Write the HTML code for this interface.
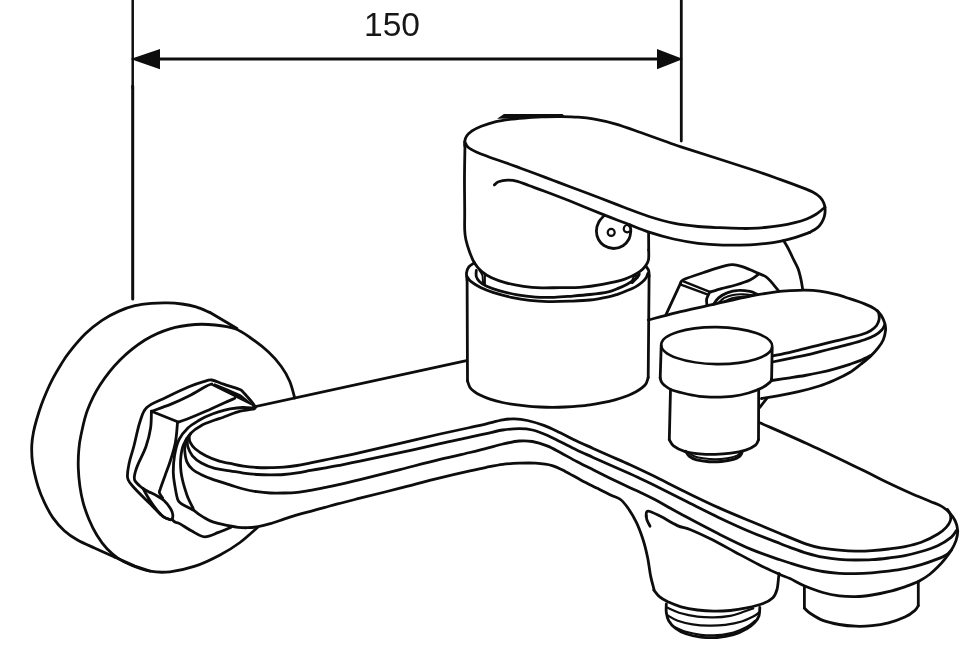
<!DOCTYPE html>
<html><head><meta charset="utf-8"><title>150</title>
<style>
html,body{margin:0;padding:0;background:#fff;}
body{width:980px;height:670px;overflow:hidden;position:relative;font-family:"Liberation Sans",sans-serif;}
svg{position:absolute;left:0;top:0;display:block;}
.dim{position:absolute;left:352px;top:5px;width:80px;text-align:center;font-size:33.6px;line-height:39px;will-change:transform;color:#161616;letter-spacing:0;white-space:nowrap;}
</style></head><body>
<svg width="980" height="670" viewBox="0 0 980 670">
<g fill="none" stroke="#0d0d0d" stroke-width="2.8" stroke-linecap="round" stroke-linejoin="round">
<path d="M132.7 0.0L132.7 88.0" stroke-width="2.5"/>
<path d="M132.7 86.0L132.7 299.0" stroke-width="3.0"/>
<path d="M681.3 0.0L681.3 141.0" stroke-width="2.8"/>
<path d="M158.0 59.0L659.0 59.0" stroke-width="2.8"/>
<path d="M114.5 557.0C111.2 555.5 101.2 551.0 95.0 548.2C88.8 545.4 82.6 542.9 77.5 540.0C72.4 537.1 68.4 534.4 64.3 530.7C60.2 527.0 56.1 522.2 52.8 517.6C49.5 513.0 47.1 508.0 44.6 502.8C42.1 497.6 40.0 493.1 38.0 486.4C36.0 479.7 33.5 469.4 32.5 462.5C31.5 455.6 31.6 450.1 31.8 445.0C32.0 439.9 32.7 436.2 33.5 432.0C34.3 427.8 35.2 424.5 36.5 420.0C37.8 415.5 39.6 409.7 41.3 405.0C43.0 400.3 44.6 396.4 46.5 392.0C48.4 387.6 50.4 383.3 52.8 378.7C55.2 374.1 58.3 368.9 61.0 364.5C63.7 360.1 65.1 357.5 69.2 352.4C73.3 347.2 80.1 338.9 85.6 333.6C91.1 328.3 96.5 324.1 102.0 320.4C107.5 316.7 113.0 313.8 118.5 311.4C124.0 308.9 129.4 307.0 134.9 305.7C140.4 304.4 145.8 303.9 151.3 303.4C156.8 302.9 162.6 302.8 167.7 302.9C172.8 303.0 177.3 303.4 182.0 304.0C186.7 304.6 191.3 305.4 196.0 306.8C200.7 308.2 207.7 311.6 210.0 312.5"/>
<path d="M210.0 312.5L237.0 328.5"/>
<path d="M294.7 398.0C293.9 395.2 292.0 386.8 289.8 381.5C287.6 376.2 284.9 371.4 281.3 366.5C277.8 361.6 273.7 356.8 268.5 352.0C263.3 347.2 255.6 341.4 250.0 337.5C244.4 333.6 240.8 330.8 235.0 328.8C229.2 326.7 221.7 325.7 215.0 325.0C208.3 324.3 202.5 323.9 195.0 324.5C187.5 325.1 178.3 326.2 170.0 328.8C161.7 331.3 153.3 334.8 145.0 340.0C136.7 345.2 127.5 352.5 120.0 360.0C112.5 367.5 105.4 376.7 100.0 385.0C94.6 393.3 90.7 401.7 87.5 410.0C84.3 418.3 82.5 428.3 81.0 435.0C79.5 441.7 79.2 444.5 78.8 450.0C78.3 455.5 78.1 461.9 78.3 468.0C78.5 474.1 79.1 480.6 79.9 486.4C80.7 492.2 81.7 497.3 83.2 502.8C84.7 508.3 86.6 513.7 88.9 519.2C91.2 524.7 94.1 530.7 97.1 535.6C100.1 540.5 103.4 545.0 107.0 548.8C110.6 552.6 114.3 555.8 118.5 558.6C122.7 561.4 126.8 563.4 132.0 565.5C137.2 567.6 143.7 570.2 150.0 571.2C156.3 572.3 162.5 572.6 170.0 571.8C177.5 570.9 186.7 569.0 195.0 566.2C203.3 563.5 212.5 559.0 220.0 555.0C227.5 551.0 233.8 547.1 240.0 542.5C246.2 537.9 254.6 530.0 257.5 527.5"/>
<path d="M114.5 557.0L134.9 566.0L150.0 571.0"/>
<path d="M255.7 407.3C254.9 406.2 252.6 402.9 251.0 401.0C249.4 399.1 247.7 397.2 246.4 395.7C245.1 394.2 244.2 393.1 243.0 392.0C241.8 390.9 242.5 390.6 239.3 389.3C236.1 388.0 228.2 385.7 223.6 384.1C219.0 382.6 215.1 380.4 211.8 380.0C208.5 379.6 207.4 380.5 203.6 381.6C199.8 382.7 195.2 384.2 188.9 386.8C182.6 389.4 172.9 394.1 165.9 397.5C158.9 400.9 151.1 403.4 146.8 407.5C142.5 411.6 142.1 415.5 139.9 422.0C137.7 428.5 135.6 439.7 133.8 446.5C132.0 453.3 130.2 457.7 129.2 463.0C128.2 468.3 126.7 474.0 127.7 478.3C128.7 482.6 131.5 484.7 135.3 489.0C139.1 493.3 146.0 499.7 150.6 504.3C155.2 508.9 159.6 514.0 162.9 516.5C166.2 519.0 169.2 519.1 170.5 519.6"/>
<path d="M151.4 411.3C154.6 410.1 164.2 406.9 170.5 404.4C176.8 401.8 183.0 399.0 188.9 396.0C194.8 393.0 201.9 388.5 205.7 386.5C209.5 384.5 210.8 384.4 211.8 384.0"/>
<path d="M151.4 411.3L178.2 422.0"/>
<path d="M178.2 422.0C179.7 421.5 182.7 420.8 187.3 419.0C191.9 417.2 199.6 414.0 205.7 411.3C211.8 408.6 219.2 405.2 224.0 403.0C228.8 400.8 233.0 399.1 234.8 398.3"/>
<path d="M151.4 411.3C151.3 414.1 151.5 422.1 150.6 428.0C149.7 433.9 148.0 440.6 146.0 446.5C144.0 452.4 140.2 459.1 138.4 463.4C136.6 467.6 136.0 469.3 135.3 472.0C134.7 474.7 133.6 477.3 134.5 479.8C135.4 482.3 138.4 484.9 141.0 487.0C143.6 489.1 148.5 491.5 150.0 492.4"/>
<path d="M150.0 492.4C151.3 493.0 155.3 494.8 157.6 496.2C159.9 497.6 161.9 498.6 164.0 500.6C166.1 502.6 168.8 505.9 170.3 508.2C171.8 510.5 172.5 512.7 172.8 514.6C173.1 516.5 172.3 518.9 172.2 519.7"/>
<path d="M143.0 488.5C144.2 490.5 147.6 496.9 150.0 500.6C152.4 504.3 155.3 508.1 157.6 510.8C159.9 513.5 161.9 515.6 164.0 517.1C166.1 518.6 169.2 519.3 170.3 519.7"/>
<path d="M147.0 500.0L160.2 514.6" stroke-width="2.0"/>
<path d="M177.5 422.5C177.2 425.8 176.6 436.0 175.4 442.4C174.2 448.8 172.0 455.5 170.3 461.0C168.6 466.5 166.9 470.5 165.2 475.2C163.5 479.9 161.1 486.2 160.2 489.2C159.2 492.2 159.1 491.5 159.5 493.0C159.9 494.5 162.2 497.2 162.7 498.0"/>
<path d="M172.2 519.7C172.7 520.1 174.0 521.5 175.4 522.2C176.8 522.9 177.8 522.6 180.5 524.1C183.2 525.6 187.9 529.0 191.9 531.1C195.9 533.2 200.2 536.6 204.6 536.8C209.0 537.0 214.1 534.0 218.5 532.4C222.9 530.8 229.1 528.1 231.2 527.3"/>
<path d="M254.4 408.2C252.4 408.1 246.8 407.4 242.7 407.5C238.6 407.6 234.1 408.2 230.1 408.9C226.1 409.6 222.4 410.6 218.5 411.8C214.6 413.0 210.1 414.8 206.9 416.2C203.8 417.6 202.8 418.0 199.6 420.0C196.4 422.0 191.3 424.7 187.9 428.0C184.5 431.3 181.2 435.1 179.0 439.7C176.8 444.3 175.4 450.3 174.5 455.8C173.6 461.3 173.2 467.8 173.3 472.7C173.4 477.6 174.1 481.2 174.8 485.4C175.5 489.6 176.4 495.1 177.3 498.1C178.2 501.1 177.8 501.2 180.5 503.2C183.2 505.2 191.1 509.0 193.2 510.1"/>
<path d="M253.5 407.0L466.5 360.6"/>
<path d="M254.4 408.9C251.7 409.4 243.1 410.4 237.9 411.8C232.7 413.2 227.2 415.8 223.3 417.2C219.5 418.6 218.5 418.6 214.8 420.0C211.2 421.4 205.4 423.2 201.4 425.4C197.4 427.6 193.6 430.1 190.6 433.4C187.6 436.7 185.0 441.1 183.4 445.1C181.8 449.1 181.2 453.6 180.8 457.6C180.3 461.6 180.5 465.6 180.8 469.3C181.0 473.0 181.8 476.7 182.5 480.0C183.2 483.3 184.1 486.0 185.0 489.0C185.9 492.0 186.8 495.1 188.1 498.1C189.3 501.1 191.4 504.9 192.5 507.0C193.6 509.1 192.6 509.1 194.4 510.8C196.2 512.5 200.1 515.2 203.3 517.1C206.5 519.0 209.1 520.7 213.5 522.2C217.9 523.7 225.9 525.0 230.0 525.9C234.1 526.8 235.2 527.0 238.1 527.3C241.0 527.6 244.2 527.8 247.5 527.7C250.8 527.6 254.4 527.3 258.2 526.6C262.0 525.9 266.0 524.9 270.3 523.7C274.6 522.5 279.3 520.7 283.8 519.2C288.3 517.7 292.7 516.1 297.2 514.8C301.7 513.5 306.1 512.5 310.6 511.3C315.1 510.1 319.6 508.8 324.1 507.6C328.6 506.4 331.5 505.5 337.5 503.9C343.5 502.3 349.6 500.8 360.0 498.2C370.4 495.6 386.7 491.6 400.0 488.2C413.3 484.8 428.3 480.6 440.0 477.8C451.7 474.9 462.3 472.5 470.0 470.8C477.7 469.1 480.9 468.4 486.4 467.3C491.9 466.2 497.3 465.0 502.8 464.3C508.3 463.6 513.7 463.4 519.2 463.2C524.7 463.0 530.1 462.8 535.6 463.2C541.1 463.6 547.2 464.2 552.1 465.6C557.0 467.0 560.3 468.9 565.2 471.4C570.1 473.9 576.1 477.5 581.6 480.4C587.1 483.3 593.1 486.1 598.0 488.6C602.9 491.1 607.4 493.4 611.1 495.2C614.9 497.0 617.6 497.3 620.5 499.5C623.4 501.7 625.6 504.7 628.3 508.5C630.9 512.3 633.9 517.2 636.4 522.4C638.9 527.6 641.1 533.7 643.0 539.5C644.9 545.3 646.2 550.9 647.5 557.0C648.8 563.1 649.6 571.0 650.7 576.4C651.8 581.8 653.5 587.3 654.0 589.5"/>
<path d="M190.8 433.6C190.6 434.1 189.4 435.0 189.3 436.5C189.2 438.0 189.2 440.4 190.2 442.4C191.2 444.4 192.5 446.5 195.1 448.7C197.7 450.9 201.8 453.7 205.8 455.8C209.8 457.9 215.3 459.9 219.3 461.2C223.3 462.5 226.0 462.6 230.0 463.4C234.0 464.2 238.9 465.4 243.4 466.1C247.9 466.8 252.4 467.2 256.9 467.5C261.4 467.8 265.8 467.8 270.3 467.7C274.8 467.6 279.3 467.6 283.8 467.2C288.3 466.8 292.7 466.2 297.2 465.5C301.7 464.8 306.1 463.7 310.6 462.8C315.1 461.9 319.6 461.0 324.1 460.1C328.6 459.2 331.5 458.6 337.5 457.4C343.5 456.1 349.6 455.0 360.0 452.6C370.4 450.2 386.7 446.4 400.0 443.3C413.3 440.2 428.3 436.6 440.0 434.0C451.7 431.4 462.3 429.2 470.0 427.5C477.7 425.8 480.9 425.1 486.4 423.8C491.9 422.5 498.2 420.7 502.8 419.9C507.4 419.1 510.2 418.8 514.3 418.9C518.4 419.0 522.5 419.4 527.4 420.5C532.3 421.6 538.3 423.3 543.8 425.4C549.3 427.4 554.8 430.2 560.3 432.8C565.8 435.4 571.2 438.4 576.7 441.0C582.2 443.6 587.6 445.9 593.1 448.4C598.6 450.9 603.4 453.1 609.5 455.8C615.6 458.5 622.8 461.5 630.0 464.8C637.2 468.1 643.5 471.1 652.8 475.6C662.1 480.1 674.6 486.7 685.6 492.0C696.6 497.3 707.5 502.7 718.5 507.6C729.5 512.5 741.0 517.2 751.3 521.5C761.5 525.8 770.8 529.7 780.0 533.5C789.2 537.3 799.3 541.6 806.4 544.1C813.5 546.6 817.3 547.2 822.8 548.2C828.3 549.2 833.7 549.7 839.2 550.2C844.7 550.7 850.1 551.1 855.6 551.2C861.1 551.3 866.5 551.1 872.0 550.7C877.5 550.3 883.0 549.7 888.5 549.0C894.0 548.3 899.4 547.7 904.9 546.6C910.4 545.5 915.8 544.4 921.3 542.3C926.8 540.2 933.9 536.5 938.0 534.0C942.1 531.5 944.2 529.6 946.2 527.4C948.2 525.2 949.6 523.1 950.3 520.9C951.0 518.7 950.8 516.2 950.3 514.3C949.8 512.4 948.0 510.3 947.5 509.5"/>
<path d="M188.8 436.2C188.6 436.8 187.7 438.2 187.5 440.0C187.3 441.8 187.1 444.3 187.9 446.9C188.7 449.5 190.2 453.1 192.4 455.8C194.7 458.5 197.7 460.9 201.4 463.0C205.1 465.1 210.0 467.1 214.8 468.4C219.6 469.7 225.2 470.0 230.0 470.8C234.8 471.6 238.9 472.5 243.4 473.1C247.9 473.7 252.4 474.2 256.9 474.5C261.4 474.8 265.8 474.9 270.3 474.9C274.8 474.9 279.3 474.9 283.8 474.5C288.3 474.1 292.7 473.5 297.2 472.8C301.7 472.1 306.1 471.2 310.6 470.4C315.1 469.6 319.6 468.9 324.1 468.1C328.6 467.3 331.5 466.9 337.5 465.7C343.5 464.5 349.6 463.4 360.0 461.2C370.4 459.0 386.7 455.6 400.0 452.7C413.3 449.8 428.3 446.2 440.0 443.6C451.7 441.0 462.3 438.9 470.0 437.2C477.7 435.5 480.9 434.8 486.4 433.6C491.9 432.4 497.3 430.8 502.8 430.0C508.3 429.2 514.3 428.7 519.2 428.7C524.1 428.7 527.8 428.9 532.4 430.0C537.0 431.1 542.5 433.3 547.1 435.3C551.8 437.3 555.4 439.4 560.3 441.8C565.2 444.2 571.2 447.4 576.7 450.0C582.2 452.6 587.6 454.9 593.1 457.4C598.6 459.9 603.4 462.1 609.5 464.8C615.6 467.5 624.9 471.5 630.0 473.8C635.1 476.1 636.2 476.7 640.0 478.5C643.8 480.3 645.2 480.9 652.8 484.6C660.4 488.4 674.6 495.5 685.6 501.0C696.6 506.5 707.5 512.2 718.5 517.4C729.5 522.6 741.0 527.9 751.3 532.2C761.5 536.6 773.5 541.0 780.0 543.5C786.5 546.0 785.6 545.8 790.0 547.4C794.4 549.0 800.9 551.5 806.4 553.1C811.9 554.7 817.3 556.2 822.8 557.2C828.3 558.2 833.7 558.9 839.2 559.4C844.7 559.9 850.1 560.0 855.6 560.0C861.1 560.0 866.5 560.0 872.0 559.7C877.5 559.4 883.0 558.7 888.5 558.0C894.0 557.3 899.4 556.7 904.9 555.6C910.4 554.5 915.8 553.1 921.3 551.5C926.8 549.9 932.7 548.1 937.7 545.7C942.7 543.3 948.0 539.8 951.1 537.3C954.2 534.8 955.6 531.6 956.5 530.5"/>
<path d="M186.8 438.5C186.5 439.2 185.5 440.9 185.2 443.0C184.9 445.1 184.5 448.2 184.8 451.4C185.1 454.6 185.7 459.1 187.0 462.1C188.3 465.1 190.0 467.2 192.4 469.3C194.8 471.4 198.1 473.1 201.4 474.7C204.7 476.3 207.3 477.4 212.1 479.1C216.9 480.8 224.8 483.2 230.0 484.9C235.2 486.5 238.9 487.9 243.4 489.0C247.9 490.1 252.4 491.0 256.9 491.7C261.4 492.4 265.8 492.8 270.3 493.0C274.8 493.2 279.3 493.1 283.8 493.0C288.3 492.9 292.7 492.8 297.2 492.3C301.7 491.9 306.1 491.1 310.6 490.3C315.1 489.5 319.6 488.5 324.1 487.6C328.6 486.7 331.5 486.2 337.5 484.9C343.5 483.6 349.6 482.2 360.0 479.7C370.4 477.1 386.7 473.0 400.0 469.6C413.3 466.2 428.3 462.2 440.0 459.4C451.7 456.5 462.3 454.3 470.0 452.5C477.7 450.7 480.9 449.8 486.4 448.4C491.9 447.0 497.3 445.2 502.8 444.0C508.3 442.8 514.3 441.4 519.2 441.0C524.1 440.6 527.8 440.7 532.4 441.5C537.0 442.3 542.5 444.1 547.1 445.9C551.8 447.7 555.4 449.9 560.3 452.5C565.2 455.1 571.2 458.6 576.7 461.5C582.2 464.4 587.6 467.0 593.1 469.7C598.6 472.4 603.4 474.9 609.5 477.9C615.6 480.9 624.9 485.4 630.0 487.8C635.1 490.2 636.2 490.4 640.0 492.2C643.8 494.0 645.2 494.5 652.8 498.6C660.4 502.7 674.6 510.7 685.6 516.6C696.6 522.5 707.5 528.3 718.5 533.8C729.5 539.3 741.0 545.1 751.3 549.4C761.5 553.7 773.5 557.5 780.0 559.8C786.5 562.1 785.6 561.6 790.0 563.0C794.4 564.4 800.9 566.5 806.4 567.9C811.9 569.3 817.3 570.6 822.8 571.5C828.3 572.4 833.7 572.9 839.2 573.3C844.7 573.6 850.1 573.7 855.6 573.6C861.1 573.5 866.5 573.2 872.0 572.8C877.5 572.4 883.0 571.9 888.5 571.2C894.0 570.5 899.4 569.8 904.9 568.7C910.4 567.6 915.8 566.2 921.3 564.6C926.8 563.0 933.6 560.5 937.7 558.9C941.9 557.3 943.9 556.5 946.2 555.0C948.5 553.5 950.6 550.8 951.5 550.0"/>
<path d="M464.8 146.0C464.8 145.2 464.5 142.7 464.8 141.1C465.1 139.5 465.4 137.8 466.5 136.2C467.6 134.6 468.9 133.0 471.4 131.3C473.9 129.7 477.2 127.9 481.3 126.3C485.4 124.7 490.8 122.8 496.0 121.6C501.2 120.4 506.9 119.7 512.4 119.0C517.9 118.3 523.3 117.9 528.8 117.5C534.3 117.1 539.8 117.0 545.3 116.8C550.8 116.6 556.2 116.5 561.7 116.6C567.2 116.7 572.6 116.8 578.1 117.2C583.6 117.6 588.4 118.1 594.5 119.2C600.6 120.3 607.4 121.7 615.0 123.9C622.6 126.1 631.7 129.4 640.0 132.3C648.3 135.2 658.2 138.8 665.0 141.2C671.8 143.6 666.8 142.2 681.0 146.8C695.2 151.4 733.5 163.6 750.0 169.0C766.5 174.4 771.2 176.3 779.9 179.4C788.6 182.5 796.7 185.5 802.2 187.6C807.7 189.7 809.7 190.5 812.7 192.1C815.7 193.7 818.2 195.4 820.1 197.3C822.0 199.2 823.1 201.3 823.9 203.3C824.7 205.3 825.0 207.1 825.1 209.3C825.2 211.5 824.9 214.5 824.3 216.7C823.7 218.9 822.8 220.8 821.6 222.7C820.4 224.6 819.2 226.3 817.2 227.9C815.2 229.5 811.0 231.7 809.7 232.4"/>
<path d="M464.8 141.9C465.4 142.8 466.2 145.6 468.1 147.3C470.0 149.0 473.0 150.5 476.3 152.0C479.6 153.5 483.2 154.8 487.8 156.5C492.4 158.2 498.7 160.4 504.2 162.3C509.7 164.2 515.1 166.2 520.6 168.2C526.1 170.2 531.5 172.2 537.0 174.3C542.5 176.4 548.0 178.4 553.5 180.5C559.0 182.6 562.2 183.8 570.0 186.7C577.8 189.6 590.9 194.5 600.0 198.0C609.1 201.5 616.3 204.4 624.5 207.5C632.7 210.6 640.8 213.9 649.0 216.5C657.2 219.1 665.3 221.5 673.5 223.2C681.7 224.9 690.2 225.8 698.0 226.5C705.8 227.2 713.0 227.4 720.0 227.7C727.0 228.0 735.0 228.3 740.0 228.4C745.0 228.5 745.9 228.6 750.0 228.4C754.1 228.2 759.9 227.9 764.9 227.5C769.9 227.1 774.9 226.5 779.9 225.7C784.9 224.9 790.3 223.8 794.8 222.7C799.3 221.6 803.2 220.4 806.7 219.0C810.2 217.6 813.2 216.0 815.7 214.5C818.2 213.0 820.1 211.2 821.6 210.0C823.1 208.8 824.4 207.8 825.0 207.3"/>
<path d="M494.4 184.9C495.1 184.4 496.3 182.6 498.5 181.8C500.7 181.0 504.4 180.3 507.5 180.2C510.6 180.1 513.9 180.4 517.4 181.3C520.9 182.2 524.1 183.8 528.8 185.5C533.4 187.2 538.4 188.9 545.3 191.5C552.2 194.1 560.2 197.1 570.0 201.0C579.8 204.9 594.7 211.2 604.0 214.9C613.3 218.6 618.5 220.4 626.0 223.3C633.5 226.2 641.1 229.6 649.0 232.2C656.9 234.8 665.3 237.2 673.5 239.0C681.7 240.8 689.8 242.3 698.0 243.3C706.2 244.3 714.0 244.8 722.7 245.1C731.4 245.3 743.0 245.1 750.0 244.8C757.0 244.6 759.9 244.2 764.9 243.6C769.9 243.0 774.9 242.3 779.9 241.3C784.9 240.3 789.8 239.1 794.8 237.6C799.8 236.1 807.2 233.3 809.7 232.4"/>
<path d="M465.0 144.0C464.9 149.2 464.6 163.6 464.5 175.0C464.4 186.4 464.7 203.3 464.7 212.5C464.7 221.7 464.5 225.4 464.7 230.0C464.9 234.6 465.1 236.1 465.9 239.8C466.7 243.5 468.2 248.1 469.6 252.0C471.0 255.9 472.5 259.7 474.5 263.0C476.5 266.3 478.9 269.1 481.8 271.6C484.7 274.1 487.7 275.9 491.6 277.8C495.5 279.6 499.8 281.2 505.1 282.6C510.4 284.1 517.4 285.4 523.5 286.3C529.6 287.2 535.7 287.6 541.8 287.8C547.9 288.0 553.8 287.6 560.2 287.6C566.6 287.5 573.0 287.8 580.0 287.3C587.0 286.8 594.9 285.7 602.4 284.3C609.9 282.9 618.6 281.2 624.8 279.1C631.0 277.0 636.2 273.8 639.7 271.6C643.2 269.4 644.2 267.7 645.7 265.7C647.2 263.7 648.0 262.3 648.5 259.7C649.0 257.1 648.7 251.6 648.7 250.0"/>
<path d="M648.7 250.0L648.6 232.5"/>
<path d="M604.5 215.2C603.5 216.3 600.1 219.4 598.8 222.0C597.4 224.6 596.4 228.1 596.4 231.0C596.4 233.9 597.2 237.1 598.5 239.5C599.8 241.9 601.5 244.0 604.0 245.5C606.5 247.0 610.4 248.5 613.6 248.5C616.8 248.5 620.4 247.3 623.0 245.7C625.6 244.1 627.7 241.4 629.0 239.0C630.3 236.6 630.6 233.3 630.8 231.0C630.9 228.7 630.0 226.0 629.9 225.0"/>
<path d="M630.0 226.8C629.5 226.5 628.0 225.0 627.0 225.0C626.0 225.0 624.7 226.0 624.2 227.0C623.7 228.0 623.7 229.9 624.2 230.8C624.7 231.7 626.3 232.2 627.2 232.3C628.1 232.4 629.1 231.6 629.5 231.5" stroke-width="2.2"/>
<path d="M474.5 262.8C473.6 263.4 470.3 265.0 469.0 266.7C467.7 268.4 466.8 270.6 466.5 272.9C466.2 275.1 467.0 279.0 467.1 280.2"/>
<path d="M467.1 280.0L467.5 381.0"/>
<path d="M467.1 276.5C467.7 277.3 468.6 279.6 470.8 281.4C473.1 283.2 476.9 285.7 480.6 287.6C484.3 289.4 487.8 290.8 492.9 292.4C498.0 294.0 505.1 296.0 511.2 297.3C517.3 298.6 523.5 299.7 529.6 300.4C535.7 301.1 541.3 301.5 548.0 301.6C554.7 301.7 563.0 301.5 570.0 301.2C577.0 300.9 583.6 300.7 590.0 300.0C596.4 299.3 603.8 297.8 608.4 296.8C613.0 295.9 614.5 295.3 617.5 294.3C620.5 293.3 623.6 292.1 626.7 290.8C629.8 289.5 633.3 288.1 635.9 286.6C638.5 285.1 640.6 283.5 642.3 282.0C644.0 280.5 645.4 278.9 646.3 277.5C647.2 276.1 647.5 274.2 647.8 273.5"/>
<path d="M476.3 270.4C476.3 271.4 475.8 274.7 476.3 276.5C476.8 278.3 477.7 279.8 479.4 281.4C481.1 283.0 483.4 284.8 486.7 286.3C490.0 287.8 493.9 289.2 499.0 290.6C504.1 292.0 511.2 293.8 517.3 294.9C523.4 296.0 529.6 296.7 535.7 297.1C541.8 297.5 548.4 297.4 554.1 297.3C559.8 297.2 564.0 296.8 570.0 296.3C576.0 295.8 583.6 295.2 590.0 294.5C596.4 293.8 603.8 292.8 608.4 291.8C613.0 290.8 614.5 289.8 617.5 288.6C620.5 287.4 624.1 285.8 626.7 284.4C629.3 283.0 631.4 281.6 633.2 280.3C635.1 279.0 636.8 277.7 637.8 276.6C638.8 275.6 639.0 274.4 639.3 274.0"/>
<path d="M479.4 270.4C479.9 271.2 481.8 273.5 482.4 275.3C483.0 277.1 482.6 279.8 483.0 281.4C483.4 283.0 484.6 284.5 484.9 285.1" stroke-width="2.0"/>
<path d="M484.9 274.0L484.9 284.5" stroke-width="2.0"/>
<path d="M631.5 282.8C631.9 281.8 632.7 278.1 633.7 276.9C634.7 275.7 636.9 275.6 637.5 275.4" stroke-width="2.0"/>
<path d="M632.3 283.0L637.8 277.5" stroke-width="2.0"/>
<path d="M646.2 266.5C646.6 267.2 648.1 268.9 648.6 270.5C649.1 272.1 649.1 275.1 649.2 276.0"/>
<path d="M649.1 276.0L648.2 377.5"/>
<path d="M467.5 381.0C467.9 382.1 468.9 385.8 470.0 387.5C471.1 389.2 472.3 390.1 474.0 391.3C475.7 392.6 477.3 393.7 480.0 395.0C482.7 396.3 486.2 397.9 490.0 399.1C493.8 400.4 498.3 401.6 502.5 402.5C506.7 403.4 510.8 404.1 515.0 404.7C519.2 405.3 523.3 405.8 527.5 406.2C531.7 406.6 535.8 406.8 540.0 407.0C544.2 407.2 548.3 407.3 552.5 407.3C556.7 407.3 560.8 407.2 565.0 407.0C569.2 406.8 573.3 406.6 577.5 406.2C581.7 405.8 585.8 405.4 590.0 404.8C594.2 404.2 598.3 403.5 602.5 402.7C606.7 401.9 610.8 401.0 615.0 399.8C619.2 398.6 624.0 397.0 627.5 395.7C631.0 394.4 633.5 393.2 636.0 391.8C638.5 390.4 640.8 388.8 642.5 387.4C644.2 386.0 645.0 385.3 646.0 383.7C647.0 382.1 647.8 378.5 648.2 377.5"/>
<path d="M648.3 320.0C653.0 318.8 665.8 315.3 676.7 312.7C687.6 310.1 701.2 307.2 713.5 304.4C725.8 301.6 739.5 298.2 750.2 296.1C760.9 294.0 771.2 292.6 777.8 291.7C784.4 290.8 785.5 291.0 790.0 290.7C794.5 290.4 799.9 290.0 804.9 290.1C809.9 290.2 814.9 290.5 819.9 291.2C824.9 291.9 829.8 292.9 834.8 294.2C839.8 295.4 844.7 297.1 849.7 298.7C854.7 300.3 860.4 302.2 864.6 303.9C868.8 305.6 872.4 307.2 875.1 309.1C877.8 311.0 879.4 312.7 881.0 315.1C882.6 317.5 884.0 320.7 884.8 323.3C885.5 325.9 885.8 328.0 885.5 330.7C885.2 333.4 884.5 336.8 883.3 339.7C882.1 342.6 880.2 345.2 878.1 347.9C876.0 350.6 873.4 353.5 870.6 356.1C867.9 358.7 863.1 362.4 861.6 363.6"/>
<path d="M877.3 310.6C877.5 311.1 878.5 312.1 878.8 313.6C879.1 315.1 879.5 317.6 879.1 319.6C878.7 321.6 878.0 323.6 876.6 325.5C875.2 327.4 873.1 329.2 870.6 330.7C868.1 332.2 865.1 333.4 861.6 334.5C858.1 335.6 854.2 336.4 849.7 337.5C845.2 338.6 839.8 340.0 834.8 341.2C829.8 342.4 824.9 343.6 819.9 344.9C814.9 346.1 809.9 347.4 804.9 348.7C799.9 349.9 795.4 351.2 790.0 352.4C784.6 353.6 775.3 355.4 772.4 356.0"/>
<path d="M884.8 324.8C884.3 325.7 883.4 328.3 881.8 330.0C880.2 331.7 878.0 333.6 875.1 335.2C872.2 336.8 868.8 338.2 864.6 339.7C860.4 341.2 854.7 342.8 849.7 344.2C844.7 345.6 839.8 346.7 834.8 347.9C829.8 349.1 824.9 350.4 819.9 351.6C814.9 352.9 809.9 354.3 804.9 355.4C799.9 356.5 795.4 357.3 790.0 358.4C784.6 359.5 775.3 361.4 772.4 362.0"/>
<path d="M870.6 355.4C868.9 356.3 863.6 359.1 860.1 360.6C856.6 362.1 853.9 362.9 849.7 364.3C845.5 365.7 839.8 367.4 834.8 368.8C829.8 370.2 824.9 371.4 819.9 372.5C814.9 373.6 809.9 374.6 804.9 375.5C799.9 376.4 795.5 377.0 790.0 377.8C784.5 378.6 774.8 380.1 771.8 380.5"/>
<path d="M861.6 363.6C859.6 365.1 854.2 369.8 849.7 372.5C845.2 375.2 839.8 377.8 834.8 380.0C829.8 382.2 825.4 384.1 819.4 386.0C813.4 387.9 805.5 390.1 798.5 391.7C791.5 393.3 783.8 394.8 777.6 395.9C771.4 397.0 764.2 398.1 761.5 398.5"/>
<path d="M767.0 398.2L759.8 407.4"/>
<path d="M665.9 314.8L680.7 282.9"/>
<path d="M680.7 282.9C681.3 282.3 679.9 281.2 684.3 279.3C688.7 277.4 700.2 273.7 707.1 271.4C714.0 269.1 721.4 266.8 725.7 265.7C730.0 264.6 730.3 264.6 732.9 264.7C735.5 264.8 738.6 265.6 741.4 266.4C744.2 267.2 746.9 268.4 749.5 269.5C752.1 270.6 754.4 271.7 757.1 272.9C759.8 274.1 763.3 275.1 765.7 276.6C768.1 278.1 769.2 279.7 771.4 282.1C773.5 284.5 777.4 289.4 778.6 290.9"/>
<path d="M681.5 284.8L708.0 294.6" stroke-width="2.4"/>
<path d="M683.5 281.4L709.8 291.8" stroke-width="2.4"/>
<path d="M709.3 292.4C711.3 291.8 717.0 289.8 721.4 288.6C725.8 287.4 730.9 286.4 735.7 285.0C740.5 283.6 746.2 281.8 750.0 280.0C753.8 278.2 757.2 275.2 758.6 274.2"/>
<path d="M709.0 293.6C708.6 294.6 706.9 297.3 706.6 299.3C706.3 301.3 706.9 304.5 707.0 305.5"/>
<path d="M713.6 304.3C714.4 303.2 716.4 299.8 718.6 297.9C720.9 296.0 723.8 294.1 727.1 292.9C730.4 291.6 734.8 290.6 738.6 290.4C742.4 290.1 746.9 290.8 750.0 291.4C753.1 292.0 755.9 293.8 757.1 294.3"/>
<path d="M718.6 302.9C719.5 302.1 721.9 299.2 724.3 297.9C726.7 296.6 729.8 295.6 732.9 295.0C736.0 294.4 739.6 294.2 742.9 294.3C746.2 294.4 751.2 295.3 752.9 295.5" stroke-width="2.2"/>
<path d="M724.3 301.4C725.7 300.8 729.8 298.7 732.9 297.9C736.0 297.1 740.3 296.8 742.9 296.7C745.5 296.6 747.6 297.0 748.6 297.1" stroke-width="2.0"/>
<path d="M783.6 240.6C784.5 242.1 787.2 246.5 788.8 249.6C790.4 252.7 791.8 255.8 793.3 259.0C794.8 262.1 796.7 265.1 798.0 268.5C799.3 271.9 800.2 276.1 801.0 279.6C801.8 283.1 802.4 287.9 802.7 289.5"/>
<path d="M661.2 345.5L660.2 378.0"/>
<path d="M772.2 347.9L771.6 379.0"/>
<path d="M660.2 378.0C660.4 378.7 660.7 380.7 661.5 382.0C662.3 383.3 663.2 384.3 664.8 385.6C666.4 386.9 668.3 388.5 671.3 389.7C674.3 390.9 678.1 391.9 682.8 393.0C687.4 394.1 693.7 395.6 699.2 396.3C704.7 397.0 710.1 397.1 715.6 397.1C721.1 397.1 726.5 397.0 732.0 396.3C737.5 395.6 743.6 394.4 748.5 393.0C753.4 391.6 758.1 389.9 761.6 388.1C765.1 386.3 768.1 383.9 769.8 382.4C771.5 380.9 771.3 379.6 771.6 379.0"/>
<path d="M670.5 389.5L669.3 439.7"/>
<path d="M758.7 389.5L758.5 439.7"/>
<path d="M669.3 439.7C670.0 440.7 671.0 443.9 673.5 445.8C676.0 447.7 680.2 450.0 684.5 451.3C688.8 452.6 694.1 453.3 699.2 453.8C704.3 454.3 709.8 454.5 715.1 454.4C720.4 454.3 725.9 453.9 731.0 453.2C736.1 452.5 741.6 451.4 745.7 450.1C749.8 448.8 753.4 446.9 755.5 445.2C757.6 443.5 758.0 440.6 758.5 439.7"/>
<path d="M685.7 451.3C686.3 452.1 687.6 454.8 689.4 456.2C691.2 457.6 693.4 459.0 696.7 459.9C700.0 460.8 704.9 461.4 709.0 461.7C713.1 462.0 717.1 461.9 721.2 461.5C725.3 461.1 730.4 460.2 733.5 459.3C736.6 458.4 738.2 457.3 739.6 456.2C741.0 455.1 741.6 453.1 742.0 452.5" stroke-width="3.0"/>
<path d="M688.2 452.5C689.2 453.1 691.8 455.2 694.3 456.2C696.8 457.2 699.4 457.8 702.9 458.3C706.4 458.8 711.0 459.3 715.1 459.3C719.2 459.3 723.6 458.9 727.3 458.3C731.0 457.7 735.0 456.5 737.1 455.6C739.2 454.7 739.7 453.3 740.2 452.9" stroke-width="2.0"/>
<path d="M760.5 423.0C768.8 426.7 793.0 437.2 810.0 445.0C827.0 452.8 850.2 464.1 862.5 470.0C874.8 475.9 876.1 477.0 883.8 480.7C891.5 484.4 900.8 488.8 908.5 492.2C916.2 495.6 924.3 498.9 929.8 501.2C935.3 503.5 938.0 504.2 941.3 506.1C944.6 508.0 947.2 510.2 949.5 512.7C951.8 515.2 953.8 517.9 955.2 520.9C956.6 523.9 957.6 527.4 957.7 530.7C957.8 534.0 957.1 537.3 956.0 540.6C954.9 543.9 953.0 547.3 951.1 550.4C949.2 553.5 946.8 556.6 944.6 559.4C942.4 562.2 940.2 564.6 937.7 567.1C935.2 569.6 932.8 572.0 929.5 574.5C926.2 577.0 919.9 580.6 918.0 581.8"/>
<path d="M646.2 516.0C646.3 515.3 646.0 512.8 646.6 512.0C647.2 511.2 647.6 510.7 650.0 511.5C652.4 512.3 656.4 514.2 661.0 516.6C665.6 519.0 672.5 523.4 677.4 525.6C682.3 527.8 685.1 527.5 690.6 529.7C696.1 531.9 702.9 535.1 710.3 538.8C717.7 542.5 726.7 547.5 734.9 551.9C743.1 556.3 752.2 561.3 759.5 565.0C766.8 568.7 773.7 571.7 778.8 574.0C783.8 576.3 785.7 576.6 790.0 578.6C794.3 580.6 799.3 583.7 804.8 586.0C810.3 588.3 817.1 590.9 822.8 592.5C828.5 594.1 833.7 595.1 839.2 595.8C844.7 596.5 850.1 596.7 855.6 596.6C861.1 596.5 866.5 595.8 872.0 595.0C877.5 594.2 883.0 593.1 888.5 591.7C894.0 590.3 900.0 588.4 904.9 586.8C909.8 585.1 915.8 582.6 918.0 581.8"/>
<path d="M650.0 526.2C649.5 525.2 647.6 521.7 647.0 520.0C646.4 518.3 646.4 516.7 646.2 516.0"/>
<path d="M653.8 590.0C654.7 591.1 657.3 594.9 659.7 596.9C662.1 598.9 664.4 600.1 667.9 601.8C671.4 603.4 676.1 605.4 681.0 606.8C685.9 608.2 691.9 609.3 697.4 610.0C702.9 610.7 708.3 611.1 713.8 611.2C719.3 611.3 724.8 611.0 730.3 610.5C735.8 610.0 741.2 609.1 746.7 607.9C752.2 606.7 758.7 605.2 763.1 603.5C767.5 601.8 770.6 600.0 772.9 597.7C775.2 595.4 776.0 593.0 777.0 589.5C778.0 586.0 778.3 579.1 778.7 576.4C779.1 573.7 779.1 574.0 779.2 573.5"/>
<path d="M666.3 604.0C666.3 605.4 665.9 609.7 666.3 612.5C666.7 615.3 667.2 618.1 668.7 620.7C670.2 623.3 672.4 625.9 675.3 628.1C678.2 630.3 681.7 632.3 685.9 633.8C690.1 635.3 695.5 636.5 700.7 637.1C705.9 637.7 711.6 637.9 717.1 637.5C722.6 637.1 728.6 636.1 733.5 634.7C738.4 633.3 743.1 631.0 746.7 628.9C750.3 626.8 752.9 624.6 754.9 622.4C756.9 620.2 758.2 618.3 759.0 615.8C759.8 613.3 759.7 608.9 759.8 607.5"/>
<path d="M667.1 607.6C669.4 608.5 676.0 611.8 681.0 613.3C686.0 614.8 691.9 615.9 697.4 616.6C702.9 617.3 708.3 617.5 713.8 617.4C719.3 617.3 725.6 616.6 730.3 615.8C734.9 615.0 737.9 613.7 741.7 612.5C745.5 611.3 751.3 609.1 753.2 608.4" stroke-width="2.2"/>
<path d="M667.1 615.0C668.9 616.0 673.5 619.2 677.7 620.7C681.9 622.2 687.3 623.5 692.5 624.3C697.7 625.1 703.4 625.5 708.9 625.6C714.4 625.7 719.8 625.5 725.3 624.8C730.8 624.1 737.1 622.9 741.7 621.5C746.4 620.1 750.3 618.1 753.2 616.6C756.1 615.1 758.0 613.2 759.0 612.5" stroke-width="2.2"/>
<path d="M675.3 627.5C677.1 628.2 681.7 630.6 685.9 631.8C690.1 633.0 695.5 634.2 700.7 634.8C705.9 635.4 711.6 635.6 717.1 635.2C722.6 634.8 728.6 634.0 733.5 632.6C738.4 631.2 743.1 628.9 746.7 627.0C750.3 625.1 753.5 622.0 754.9 621.0" stroke-width="2.2"/>
<path d="M804.4 586.5L804.4 608.1"/>
<path d="M918.3 582.0L918.3 605.6"/>
<path d="M804.4 608.1C805.3 608.9 806.6 611.0 809.7 613.0C812.8 615.0 817.9 618.5 822.8 620.4C827.7 622.3 833.7 623.5 839.2 624.5C844.7 625.5 850.1 626.0 855.6 626.2C861.1 626.4 866.5 626.2 872.0 625.7C877.5 625.2 883.0 624.3 888.5 622.9C894.0 621.5 900.5 619.1 904.9 617.1C909.3 615.1 912.5 612.5 914.7 610.6C916.9 608.7 917.7 606.4 918.3 605.6"/>
</g>
<ellipse cx="716.7" cy="345.6" rx="55.5" ry="18.5" transform="rotate(0.8 716.7 345.6)" fill="none" stroke="#0d0d0d" stroke-width="2.6"/>
<circle cx="611.2" cy="232.4" r="3.5" fill="none" stroke="#0d0d0d" stroke-width="2.2"/>
<g fill="#0d0d0d" stroke="none">
<path d="M130.5 59L160 49L160 69.2Z"/>
<path d="M683 59L657 49L657 69.2Z"/>
<path d="M497 118.8L504 113.9L562.5 113.9L566 117.4Z"/>
<path d="M211.3 385.4L214.5 383.2L228 388.8L241 394.6L249 401L255.6 407.6L237.5 398.6Z"/>
</g>
</svg>
<div class="dim">150</div>
</body></html>
